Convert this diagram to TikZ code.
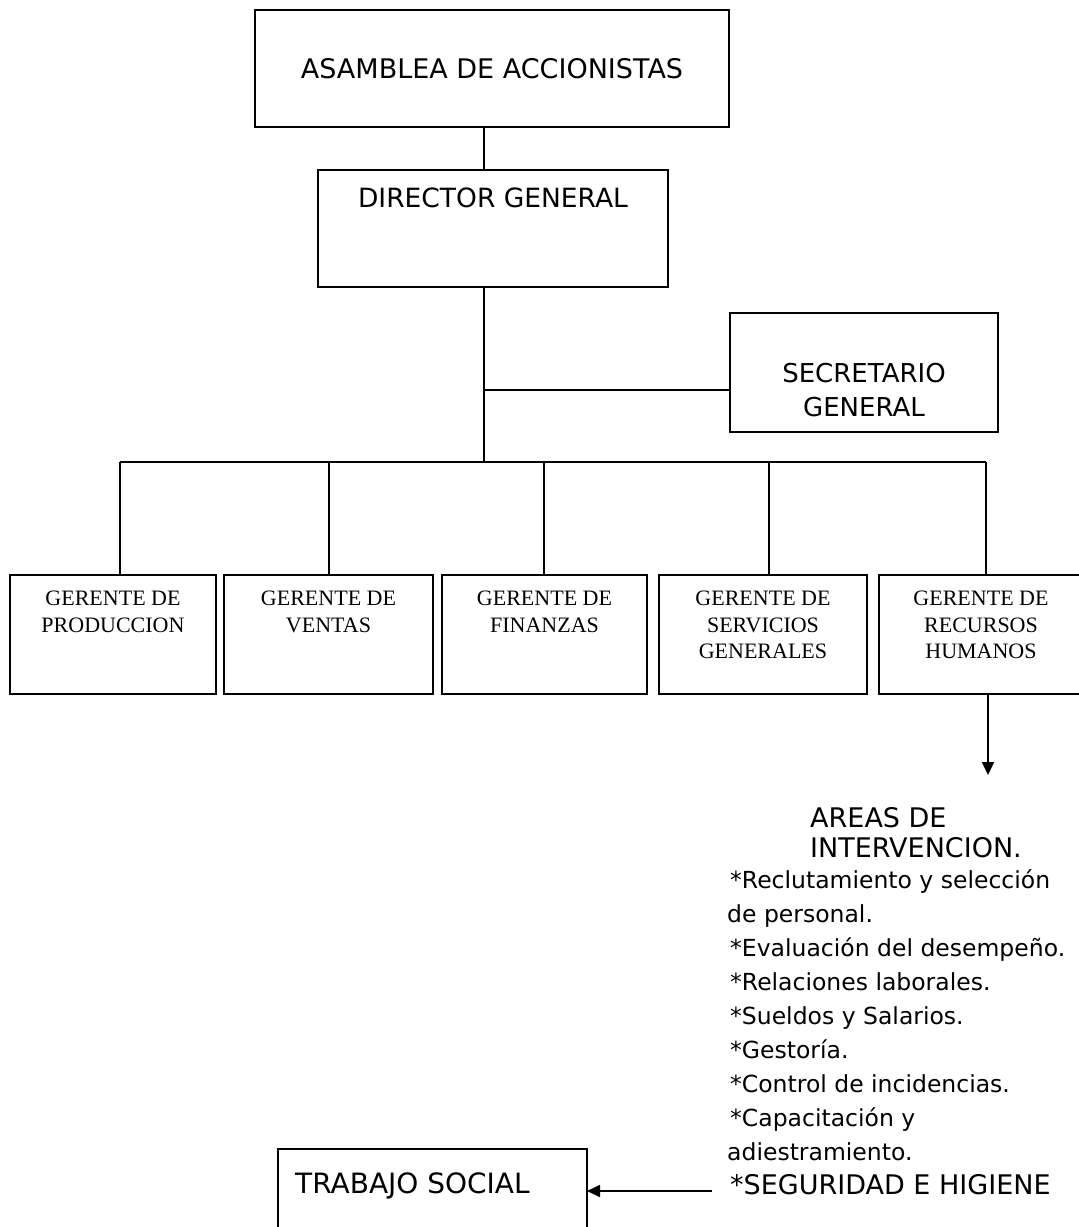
\documentclass[tikz,border=0pt]{standalone}
\usepackage{fontspec}
\setmainfont{DejaVu Sans}
\newfontfamily\serifg{Liberation Serif}
\usetikzlibrary{arrows.meta}
\begin{document}
\begin{tikzpicture}[x=1pt,y=-1pt,
  box/.style={draw, line width=1.8pt, inner sep=0pt, outer sep=0pt},
  link/.style={line width=1.8pt},
  arr/.style={line width=1.8pt, -{Triangle[width=12pt,length=13pt]}},
  gtxt/.style={font=\serifg\fontsize{22}{26.5}\selectfont, align=center, inner sep=0pt, anchor=north},
  big/.style={font=\fontsize{27}{33}\selectfont, inner sep=0pt},
  lst/.style={anchor=base west, inner sep=0pt, font=\fontsize{23.5}{28}\selectfont},
  lstc/.style={anchor=base west, inner sep=0pt, font=\fontsize{27}{33}\selectfont}
]
\useasboundingbox (0,0) rectangle (1079,1227);
\clip (0,0) rectangle (1079,1227);

% top boxes
\node[box, big, minimum width=474pt, minimum height=117pt] (asm) at (492,68.5) {ASAMBLEA DE ACCIONISTAS};
\node[box, minimum width=350pt, minimum height=117pt] (dir) at (493,228.5) {};
\node[big, anchor=base, font=\fontsize{26.5}{33}\selectfont] (dirt) at (493,207) {DIRECTOR GENERAL};
\node[box, minimum width=268pt, minimum height=119pt] (sec) at (864,372.5) {};
\node[big, align=center, font=\fontsize{26}{34}\selectfont] (sect) at (864,390) {SECRETARIO\\GENERAL};

% gerentes
\node[box, minimum width=206pt, minimum height=119pt] (g1) at (113,634.5) {};
\node[box, minimum width=209pt, minimum height=119pt] (g2) at (328.5,634.5) {};
\node[box, minimum width=205pt, minimum height=119pt] (g3) at (544.5,634.5) {};
\node[box, minimum width=208pt, minimum height=119pt] (g4) at (763,634.5) {};
\node[box, minimum width=204pt, minimum height=119pt] (g5) at (981,634.5) {};
\node[gtxt] (g1t) at (113,591) {GERENTE DE\\PRODUCCION};
\node[gtxt] (g2t) at (328.5,591) {GERENTE DE\\VENTAS};
\node[gtxt] (g3t) at (544.5,591) {GERENTE DE\\FINANZAS};
\node[gtxt] (g4t) at (763,591) {GERENTE DE\\SERVICIOS\\GENERALES};
\node[gtxt] (g5t) at (981,591) {GERENTE DE\\RECURSOS\\HUMANOS};

% connectors
\coordinate (bus) at (484,462);
\coordinate (secj) at (484,390);
\coordinate (d1) at (120,462);
\coordinate (d2) at (329,462);
\coordinate (d3) at (544,462);
\coordinate (d4) at (769,462);
\coordinate (d5) at (986,462);
\draw[link] (asm.south -| bus) -- (dir.north -| bus);
\draw[link] (dir.south -| bus) -- (bus);
\draw[link] (secj) -- (secj -| sec.west);
\draw[link] (d1) -- (d5);
\draw[link] (d1) -- (d1 |- g1.north);
\draw[link] (d2) -- (d2 |- g2.north);
\draw[link] (d3) -- (d3 |- g3.north);
\draw[link] (d4) -- (d4 |- g4.north);
\draw[link] (d5) -- (d5 |- g5.north);

% areas
\coordinate (tip) at (988,775);
\draw[arr] (g5.south -| tip) -- (tip);
\node[lstc] (ar1) at (810,827) {AREAS DE};
\node[lstc] (ar2) at (810,857) {INTERVENCION.};
\node[lst] (l1) at (730,888) {*Reclutamiento y selección};
\node[lst] (l2) at (727,922) {de personal.};
\node[lst] (l3) at (730,956) {*Evaluación del desempeño.};
\node[lst] (l4) at (730,990) {*Relaciones laborales.};
\node[lst] (l5) at (730,1024) {*Sueldos y Salarios.};
\node[lst] (l6) at (730,1058) {*Gestoría.};
\node[lst] (l7) at (730,1092) {*Control de incidencias.};
\node[lst] (l8) at (730,1126) {*Capacitación y};
\node[lst] (l9) at (727,1160) {adiestramiento.};
\node[lstc] (l10) at (730,1194) {*SEGURIDAD E HIGIENE};

% trabajo social
\node[box, minimum width=309pt, minimum height=200pt] (trab) at (432.5,1249) {};
\node[anchor=base west, inner sep=0pt, font=\fontsize{28}{33}\selectfont] (trabt) at (295,1193) {TRABAJO SOCIAL};
\coordinate (segS) at (712,1191);
\draw[arr] (segS) -- (segS -| trab.east);
\end{tikzpicture}
\end{document}
